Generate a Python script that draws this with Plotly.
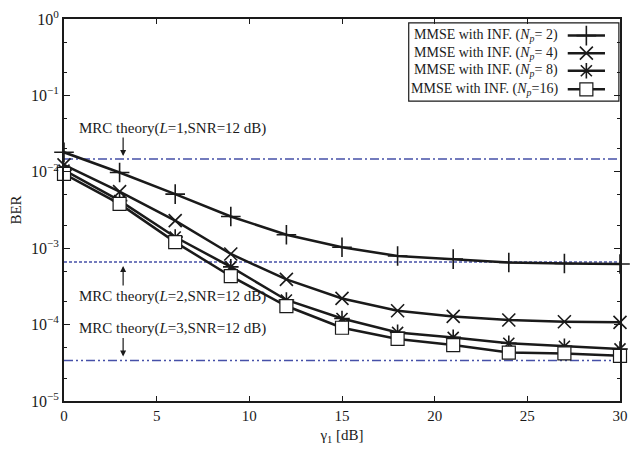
import plotly.graph_objects as go
import math

snr_db = [0, 3, 6, 9, 12, 15, 18, 21, 24, 27, 30]
ber_np2 = [0.018, 0.0098, 0.0051, 0.0026, 0.0015, 0.00103, 0.00079, 0.00072, 0.00065, 0.00063, 0.00062]
ber_np4 = [0.0123, 0.0055, 0.0023, 0.00084, 0.00039, 0.00022, 0.000152, 0.000128, 0.000115, 0.000109, 0.000107]
ber_np8 = [0.0105, 0.0042, 0.0014, 0.00057, 0.00021, 0.00012, 0.000079, 0.000068, 0.000057, 0.000052, 0.000048]
ber_np16 = [0.0094, 0.0038, 0.0012, 0.00043, 0.000175, 0.000091, 0.000065, 0.000054, 0.000043, 0.000042, 0.000039]

mrc_x = [0, 30]
mrc_L1 = 0.0147
mrc_L2 = 0.00066
mrc_L3 = 0.000034

series_names = ["MMSE with INF. (<i>N<sub>p</sub></i>= 2)", "MMSE with INF. (<i>N<sub>p</sub></i>= 4)",
                "MMSE with INF. (<i>N<sub>p</sub></i>= 8)", "MMSE with INF. (<i>N<sub>p</sub></i>=16)"]
mrc_labels = ["MRC theory(<i>L</i>=1,SNR=12 dB)", "MRC theory(<i>L</i>=2,SNR=12 dB)",
              "MRC theory(<i>L</i>=3,SNR=12 dB)"]

ytick_vals = [1, 0.1, 0.01, 0.001, 0.0001, 0.00001]
ytick_text = ["10<sup>0</sup>", "10<sup>−1</sup>", "10<sup>−2</sup>", "10<sup>−3</sup>", "10<sup>−4</sup>", "10<sup>−5</sup>"]

FONT = "Liberation Serif"
BLACK = "#1a1a1a"
BLUE = "#4650a8"

styles = [
    dict(symbol="cross-thin-open", size=14, line=dict(width=1.6, color=BLACK), color=BLACK),
    dict(symbol="x-thin-open", size=13, line=dict(width=1.6, color=BLACK), color=BLACK),
    dict(symbol="asterisk-open", size=13, line=dict(width=1.6, color=BLACK), color=BLACK),
    dict(symbol="square", size=13, line=dict(width=1.2, color=BLACK), color="white"),
]

fig = go.Figure()

for y, dash in [(mrc_L1, "9px,3px,2px,3px"), (mrc_L2, "3px,2px"), (mrc_L3, "9px,3px,2px,3px,2px,3px")]:
    fig.add_trace(go.Scatter(x=mrc_x, y=[y, y], mode="lines",
                             line=dict(color=BLUE, width=1.5, dash=dash),
                             showlegend=False, hoverinfo="skip", cliponaxis=False))

for data, st in zip([ber_np2, ber_np4, ber_np8, ber_np16], styles):
    fig.add_trace(go.Scatter(x=snr_db, y=data, mode="lines+markers",
                             line=dict(color=BLACK, width=2.5),
                             marker=st, showlegend=False, cliponaxis=False))

# custom legend (symbols on the right, like the reference)
row_y = [0.9565, 0.9105, 0.8645, 0.816]
for yy, st, name in zip(row_y, styles, series_names):
    fig.add_trace(go.Scatter(x=[0.906, 0.973], y=[yy, yy], xaxis="x2", yaxis="y2", mode="lines",
                             line=dict(color=BLACK, width=2.5), showlegend=False, hoverinfo="skip"))
    fig.add_trace(go.Scatter(x=[0.9395], y=[yy], xaxis="x2", yaxis="y2", mode="markers",
                             marker=st, showlegend=False, hoverinfo="skip"))
    fig.add_annotation(x=0.892, y=yy, xref="paper", yref="paper", text=name, showarrow=False,
                       xanchor="right", yanchor="middle", font=dict(family=FONT, size=14, color=BLACK))

fig.add_shape(type="rect", xref="paper", yref="paper", x0=0.62, x1=0.998, y0=0.785, y1=0.99,
              line=dict(color=BLACK, width=1.2), fillcolor="rgba(0,0,0,0)", layer="above")


def ly(v):
    return math.log10(v)


ARROW_X = 3.19
arrow_style = dict(xref="x", yref="y", text="", showarrow=True, arrowhead=2, arrowsize=1,
                   arrowwidth=1.2, arrowcolor=BLACK, ax=0, font=dict(size=1), borderpad=0)

fig.add_annotation(x=0.69, y=ly(0.0374), xref="x", yref="y", text=mrc_labels[0], showarrow=False,
                   xanchor="left", yanchor="middle", font=dict(family=FONT, size=15, color=BLACK))
fig.add_annotation(x=ARROW_X, y=ly(mrc_L1), ay=-22, standoff=3, **arrow_style)

fig.add_annotation(x=0.69, y=ly(0.000235), xref="x", yref="y", text=mrc_labels[1], showarrow=False,
                   xanchor="left", yanchor="middle", font=dict(family=FONT, size=15, color=BLACK))
fig.add_annotation(x=ARROW_X, y=ly(mrc_L2), ay=24, standoff=4, **arrow_style)

fig.add_annotation(x=0.69, y=ly(0.0000889), xref="x", yref="y", text=mrc_labels[2], showarrow=False,
                   xanchor="left", yanchor="middle", font=dict(family=FONT, size=15, color=BLACK))
fig.add_annotation(x=ARROW_X, y=ly(mrc_L3), ay=-23, standoff=4, **arrow_style)

fig.update_layout(
    width=636, height=449,
    margin=dict(l=64, r=8, t=14, b=44),
    paper_bgcolor="white", plot_bgcolor="white",
    font=dict(family=FONT, size=14, color=BLACK),
    showlegend=False,
    xaxis=dict(range=[0, 30], tickvals=[0, 5, 10, 15, 20, 25, 30], ticks="inside", ticklen=5,
               tickwidth=1, tickcolor=BLACK, showline=True, linecolor=BLACK, linewidth=2,
               mirror="ticks", showgrid=False, zeroline=False,
               tickfont=dict(family=FONT, size=15, color=BLACK),
               title=dict(text="γ<sub>1</sub> [dB]", font=dict(family=FONT, size=15, color=BLACK), standoff=6)),
    yaxis=dict(type="log", range=[-5, 0], tickvals=ytick_vals, ticktext=ytick_text, ticks="inside",
               ticklen=6, tickwidth=1, tickcolor=BLACK, showline=True, linecolor=BLACK, linewidth=2,
               mirror="ticks", showgrid=False, zeroline=False,
               minor=dict(ticks="inside", ticklen=3, tickcolor=BLACK, dtick="D2", showgrid=False),
               tickfont=dict(family=FONT, size=16, color=BLACK),
               title=dict(text="BER", font=dict(family=FONT, size=15, color=BLACK), standoff=6)),
    xaxis2=dict(overlaying="x", range=[0, 1], anchor="y2", visible=False, fixedrange=True),
    yaxis2=dict(overlaying="y", range=[0, 1], anchor="x2", visible=False, fixedrange=True),
)

fig.write_html("out.html")
